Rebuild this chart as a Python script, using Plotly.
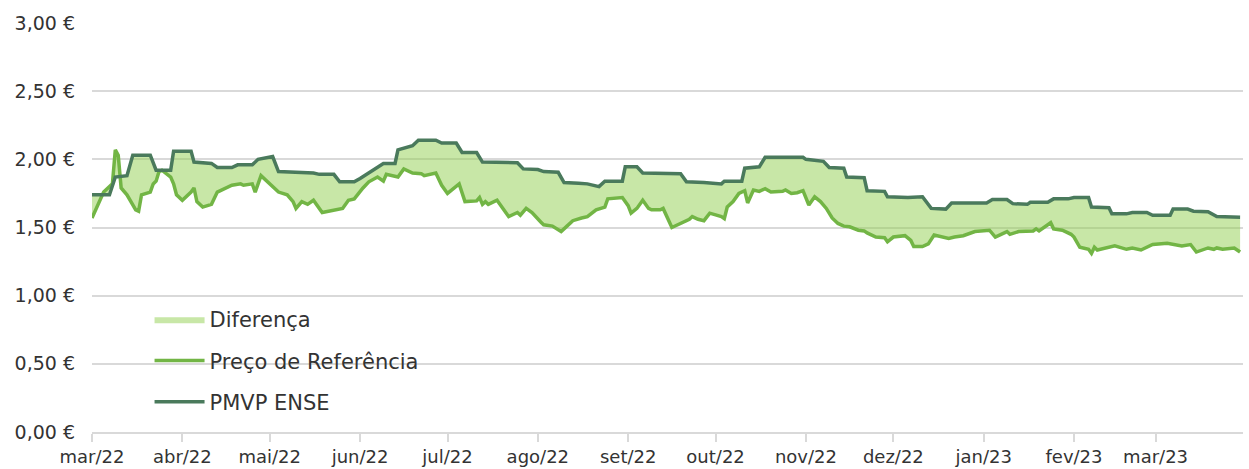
import plotly.graph_objects as go

# PMVP ENSE (dark line)
pmvp_dates = [
    "2022-03-01", "2022-03-07", "2022-03-09", "2022-03-13", "2022-03-15", "2022-03-21", "2022-03-23", "2022-03-28",
    "2022-03-29", "2022-04-04", "2022-04-05", "2022-04-11", "2022-04-13", "2022-04-18", "2022-04-20", "2022-04-25",
    "2022-04-27", "2022-04-30", "2022-05-02", "2022-05-04", "2022-05-16", "2022-05-18", "2022-05-23", "2022-05-25",
    "2022-05-30", "2022-06-01", "2022-06-04", "2022-06-09", "2022-06-13", "2022-06-14", "2022-06-19", "2022-06-21",
    "2022-06-27", "2022-06-29", "2022-07-04", "2022-07-06", "2022-07-11", "2022-07-13", "2022-07-25", "2022-07-27",
    "2022-08-01", "2022-08-03", "2022-08-08", "2022-08-10", "2022-08-15", "2022-08-18", "2022-08-22", "2022-08-24",
    "2022-08-30", "2022-08-31", "2022-09-04", "2022-09-06", "2022-09-19", "2022-09-21", "2022-09-27", "2022-10-03",
    "2022-10-04", "2022-10-10", "2022-10-11", "2022-10-16", "2022-10-18", "2022-10-31", "2022-11-01", "2022-11-07",
    "2022-11-09", "2022-11-14", "2022-11-15", "2022-11-21", "2022-11-22", "2022-11-28", "2022-11-29", "2022-12-06",
    "2022-12-11", "2022-12-14", "2022-12-19", "2022-12-21", "2023-01-02", "2023-01-04", "2023-01-09", "2023-01-11",
    "2023-01-16", "2023-01-17", "2023-01-23", "2023-01-25", "2023-01-30", "2023-02-01", "2023-02-06", "2023-02-07",
    "2023-02-13", "2023-02-14", "2023-02-19", "2023-02-21", "2023-02-26", "2023-02-28", "2023-03-06", "2023-03-07",
    "2023-03-12", "2023-03-14", "2023-03-19", "2023-03-22", "2023-03-30",
]
pmvp_values = [
    1.74, 1.74, 1.87, 1.88, 2.03, 2.03, 1.92, 1.92,
    2.06, 2.06, 1.98, 1.97, 1.94, 1.94, 1.96, 1.96,
    2.00, 2.01, 2.02, 1.91, 1.90, 1.89, 1.89, 1.835,
    1.835, 1.86, 1.90, 1.97, 1.97, 2.07, 2.10, 2.14,
    2.14, 2.12, 2.12, 2.05, 2.05, 1.98, 1.975, 1.93,
    1.925, 1.91, 1.905, 1.83, 1.825, 1.82, 1.80, 1.84,
    1.84, 1.945, 1.945, 1.90, 1.895, 1.835, 1.83, 1.82,
    1.84, 1.84, 1.935, 1.945, 2.015, 2.015, 2.00, 1.985,
    1.94, 1.935, 1.87, 1.865, 1.77, 1.765, 1.725, 1.72,
    1.725, 1.64, 1.635, 1.68, 1.68, 1.705, 1.705, 1.675,
    1.67, 1.685, 1.685, 1.71, 1.71, 1.72, 1.72, 1.65,
    1.645, 1.60, 1.60, 1.61, 1.61, 1.59, 1.59, 1.635,
    1.635, 1.62, 1.615, 1.58, 1.575,
]

# Preço de Referência (light line)
ref_dates = [
    "2022-03-01", "2022-03-05", "2022-03-08", "2022-03-09", "2022-03-10", "2022-03-11", "2022-03-13", "2022-03-16",
    "2022-03-17", "2022-03-18", "2022-03-21", "2022-03-22", "2022-03-23", "2022-03-24", "2022-03-25", "2022-03-28",
    "2022-03-29", "2022-03-30", "2022-04-01", "2022-04-04", "2022-04-05", "2022-04-06", "2022-04-08", "2022-04-11",
    "2022-04-13", "2022-04-18", "2022-04-21", "2022-04-22", "2022-04-25", "2022-04-26", "2022-04-28", "2022-05-01",
    "2022-05-04", "2022-05-07", "2022-05-09", "2022-05-10", "2022-05-12", "2022-05-14", "2022-05-16", "2022-05-19",
    "2022-05-24", "2022-05-26", "2022-05-28", "2022-05-30", "2022-06-02", "2022-06-04", "2022-06-07", "2022-06-09",
    "2022-06-10", "2022-06-14", "2022-06-16", "2022-06-19", "2022-06-22", "2022-06-23", "2022-06-27", "2022-06-29",
    "2022-07-01", "2022-07-04", "2022-07-05", "2022-07-07", "2022-07-11", "2022-07-12", "2022-07-13", "2022-07-14",
    "2022-07-15", "2022-07-18", "2022-07-20", "2022-07-22", "2022-07-25", "2022-07-26", "2022-07-28", "2022-07-30",
    "2022-08-02", "2022-08-03", "2022-08-06", "2022-08-09", "2022-08-11", "2022-08-13", "2022-08-16", "2022-08-18",
    "2022-08-21", "2022-08-24", "2022-08-25", "2022-08-30", "2022-09-01", "2022-09-02", "2022-09-04", "2022-09-06",
    "2022-09-08", "2022-09-09", "2022-09-12", "2022-09-13", "2022-09-16", "2022-09-19", "2022-09-22", "2022-09-23",
    "2022-09-25", "2022-09-27", "2022-09-29", "2022-10-03", "2022-10-04", "2022-10-05", "2022-10-07", "2022-10-09",
    "2022-10-11", "2022-10-12", "2022-10-14", "2022-10-16", "2022-10-18", "2022-10-20", "2022-10-24", "2022-10-25",
    "2022-10-27", "2022-10-29", "2022-10-31", "2022-11-02", "2022-11-04", "2022-11-06", "2022-11-08", "2022-11-10",
    "2022-11-12", "2022-11-14", "2022-11-16", "2022-11-19", "2022-11-21", "2022-11-22", "2022-11-25", "2022-11-28",
    "2022-11-29", "2022-12-01", "2022-12-05", "2022-12-07", "2022-12-08", "2022-12-11", "2022-12-13", "2022-12-15",
    "2022-12-18", "2022-12-20", "2022-12-22", "2022-12-25", "2022-12-29", "2023-01-03", "2023-01-05", "2023-01-08",
    "2023-01-09", "2023-01-10", "2023-01-13", "2023-01-18", "2023-01-19", "2023-01-20", "2023-01-22", "2023-01-24",
    "2023-01-25", "2023-01-28", "2023-01-31", "2023-02-01", "2023-02-03", "2023-02-06", "2023-02-07", "2023-02-08",
    "2023-02-09", "2023-02-15", "2023-02-19", "2023-02-21", "2023-02-24", "2023-02-28", "2023-03-05", "2023-03-10",
    "2023-03-13", "2023-03-15", "2023-03-19", "2023-03-21", "2023-03-22", "2023-03-24", "2023-03-28", "2023-03-30",
]
ref_values = [
    1.57, 1.76, 1.82, 2.07, 2.03, 1.79, 1.74, 1.63,
    1.62, 1.74, 1.76, 1.82, 1.84, 1.91, 1.92, 1.87,
    1.82, 1.74, 1.70, 1.76, 1.79, 1.69, 1.65, 1.67,
    1.76, 1.81, 1.82, 1.81, 1.82, 1.76, 1.88, 1.82,
    1.76, 1.74, 1.69, 1.64, 1.69, 1.67, 1.70, 1.61,
    1.63, 1.64, 1.70, 1.71, 1.79, 1.835, 1.87, 1.84,
    1.89, 1.87, 1.93, 1.90, 1.895, 1.88, 1.90, 1.81,
    1.75, 1.80, 1.82, 1.69, 1.695, 1.72, 1.67, 1.69,
    1.67, 1.70, 1.64, 1.58, 1.61, 1.59, 1.64, 1.61,
    1.54, 1.52, 1.51, 1.47, 1.51, 1.55, 1.57, 1.58,
    1.63, 1.65, 1.71, 1.72, 1.66, 1.605, 1.64, 1.70,
    1.64, 1.63, 1.63, 1.64, 1.50, 1.53, 1.56, 1.58,
    1.56, 1.55, 1.605, 1.58, 1.565, 1.65, 1.69, 1.75,
    1.77, 1.68, 1.775, 1.765, 1.785, 1.76, 1.765, 1.775,
    1.75, 1.755, 1.77, 1.665, 1.725, 1.69, 1.64, 1.57,
    1.53, 1.51, 1.505, 1.48, 1.475, 1.46, 1.43, 1.425,
    1.395, 1.43, 1.44, 1.405, 1.36, 1.36, 1.38, 1.445,
    1.43, 1.42, 1.43, 1.44, 1.47, 1.48, 1.43, 1.455,
    1.47, 1.45, 1.47, 1.475, 1.49, 1.475, 1.505, 1.535,
    1.49, 1.48, 1.45, 1.43, 1.355, 1.34, 1.31, 1.355,
    1.335, 1.365, 1.34, 1.35, 1.335, 1.375, 1.385, 1.365,
    1.375, 1.32, 1.35, 1.34, 1.35, 1.34, 1.35, 1.32,
]

month_ticks = ["2022-03-01", "2022-04-01", "2022-05-01", "2022-06-01", "2022-07-01", "2022-08-01", "2022-09-01",
               "2022-10-01", "2022-11-01", "2022-12-01", "2023-01-01", "2023-02-01", "2023-03-01"]
month_labels = ["mar/22", "abr/22", "mai/22", "jun/22", "jul/22", "ago/22", "set/22",
                "out/22", "nov/22", "dez/22", "jan/23", "fev/23", "mar/23"]
y_ticks = [0, 0.5, 1.0, 1.5, 2.0, 2.5, 3.0]
y_labels = ["0,00 €", "0,50 €", "1,00 €", "1,50 €", "2,00 €", "2,50 €", "3,00 €"]

DARK = "#4a7a5c"
LIGHT = "#72b545"
FILL = "rgba(146,208,80,0.5)"
FONT = "DejaVu Sans"
TEXT = "#333333"

fig = go.Figure()
# Fill area between the two series
fig.add_trace(go.Scatter(x=ref_dates, y=ref_values, mode="lines", line=dict(width=0),
                         showlegend=False, hoverinfo="skip", legendgroup="a"))
fig.add_trace(go.Scatter(x=pmvp_dates, y=pmvp_values, mode="lines", line=dict(width=0),
                         fill="tonexty", fillcolor=FILL, name="Diferença", legendgroup="b"))
fig.add_trace(go.Scatter(x=ref_dates, y=ref_values, mode="lines",
                         line=dict(color=LIGHT, width=3.5), name="Preço de Referência", legendgroup="c"))
fig.add_trace(go.Scatter(x=pmvp_dates, y=pmvp_values, mode="lines",
                         line=dict(color=DARK, width=3.5), name="PMVP ENSE", legendgroup="d"))

fig.update_layout(
    width=1249, height=469,
    margin=dict(l=92, r=6, t=23, b=37, autoexpand=False),
    paper_bgcolor="white", plot_bgcolor="white",
    font=dict(family=FONT, size=18, color=TEXT),
    legend=dict(x=0.05, y=0.325, xanchor="left", yanchor="top",
                font=dict(size=21, color=TEXT), bgcolor="rgba(0,0,0,0)",
                tracegroupgap=11, traceorder="grouped", itemwidth=50),
    showlegend=True,
)
fig.update_xaxes(
    type="date", range=["2022-03-01", "2023-03-31"],
    tickvals=month_ticks, ticktext=month_labels, automargin=False,
    showgrid=False, showline=True, linecolor="#d9d9d9", linewidth=1.5,
    ticks="outside", ticklen=8, tickcolor="#d9d9d9", tickwidth=1.5,
    tickfont=dict(size=18), zeroline=False,
)
fig.update_yaxes(
    range=[0, 3], tickvals=y_ticks, ticktext=y_labels, automargin=False,
    showgrid=True, gridcolor="#d9d9d9", gridwidth=1.5,
    zeroline=False, showline=False, ticks="", ticklabelstandoff=16,
    tickfont=dict(size=19),
)

fig.write_html("out.html", config={"displayModeBar": False},
               post_script="document.body.style.margin='0';document.body.style.overflow='hidden';")
